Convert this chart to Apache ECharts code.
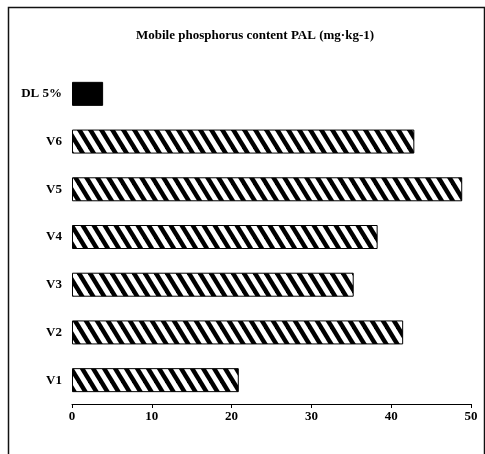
<!DOCTYPE html>
<html>
<head>
<meta charset="utf-8">
<script src="https://cdn.jsdelivr.net/npm/echarts@6/dist/echarts.min.js"></script>
<style>
  html, body { margin: 0; padding: 0; background: #fff; }
  #chart { width: 485px; height: 454px; }
</style>
</head>
<body>
<div id="chart"></div>
<script>
// data (bottom to top)
var categories = ['V1', 'V2', 'V3', 'V4', 'V5', 'V6', 'DL 5%'];
var values = [20.9, 41.5, 35.3, 38.3, 48.9, 42.9, 3.9];
var xTicks = [0, 10, 20, 30, 40, 50];

// hatch tile: black diagonal stripes "\\\"
function makeHatch() {
  var w = 11, h = 18;
  var c = document.createElement('canvas');
  c.width = w; c.height = h;
  var ctx = c.getContext('2d');
  ctx.fillStyle = '#fff';
  ctx.fillRect(0, 0, w, h);
  ctx.strokeStyle = '#000';
  ctx.lineWidth = 4.5;
  // lines run past the tile edges so the repeat has no seams
  for (var k = -2; k <= 2; k++) {
    ctx.beginPath();
    ctx.moveTo(k * w - w, -h);
    ctx.lineTo(k * w + 2 * w, 2 * h);
    ctx.stroke();
  }
  return c;
}
var hatch = makeHatch();

var font = '"Liberation Serif", "Times New Roman", serif';

var chart = echarts.init(document.getElementById('chart'), null, { renderer: 'canvas' });

var option = {
  backgroundColor: '#fff',
  animation: false,
  title: {
    text: 'Mobile phosphorus content PAL (mg·kg-1)',
    left: 250,
    top: 24,
    textAlign: 'center',
    textStyle: { fontFamily: font, fontWeight: 'bold', fontSize: 13, color: '#000' }
  },
  graphic: [{
    type: 'rect',
    shape: { x: 8.5, y: 7.5, width: 476, height: 470 },
    style: { fill: 'none', stroke: '#111', lineWidth: 1.5 },
    silent: true
  }],
  grid: { left: 72, right: 14, top: 70, bottom: 50 },
  xAxis: {
    type: 'value',
    min: xTicks[0],
    max: xTicks[xTicks.length - 1],
    interval: 10,
    splitLine: { show: false },
    axisLine: { show: true, lineStyle: { color: '#000', width: 1 } },
    axisTick: { show: true, length: 4, lineStyle: { color: '#000' } },
    axisLabel: { margin: 6, color: '#000', fontFamily: font, fontWeight: 'bold', fontSize: 13 }
  },
  yAxis: {
    type: 'category',
    data: categories,
    axisLine: { show: false },
    axisTick: { show: false },
    axisLabel: { margin: 10, color: '#000', fontFamily: font, fontWeight: 'bold', fontSize: 13 }
  },
  series: [{
    type: 'bar',
    barWidth: 24,
    data: values.map(function (v, i) {
      var isDL = categories[i] === 'DL 5%';
      return {
        value: v,
        itemStyle: {
          color: isDL ? '#000' : { image: hatch, repeat: 'repeat' },
          borderColor: '#000',
          borderWidth: 1
        }
      };
    })
  }]
};

chart.setOption(option);
</script>
</body>
</html>
